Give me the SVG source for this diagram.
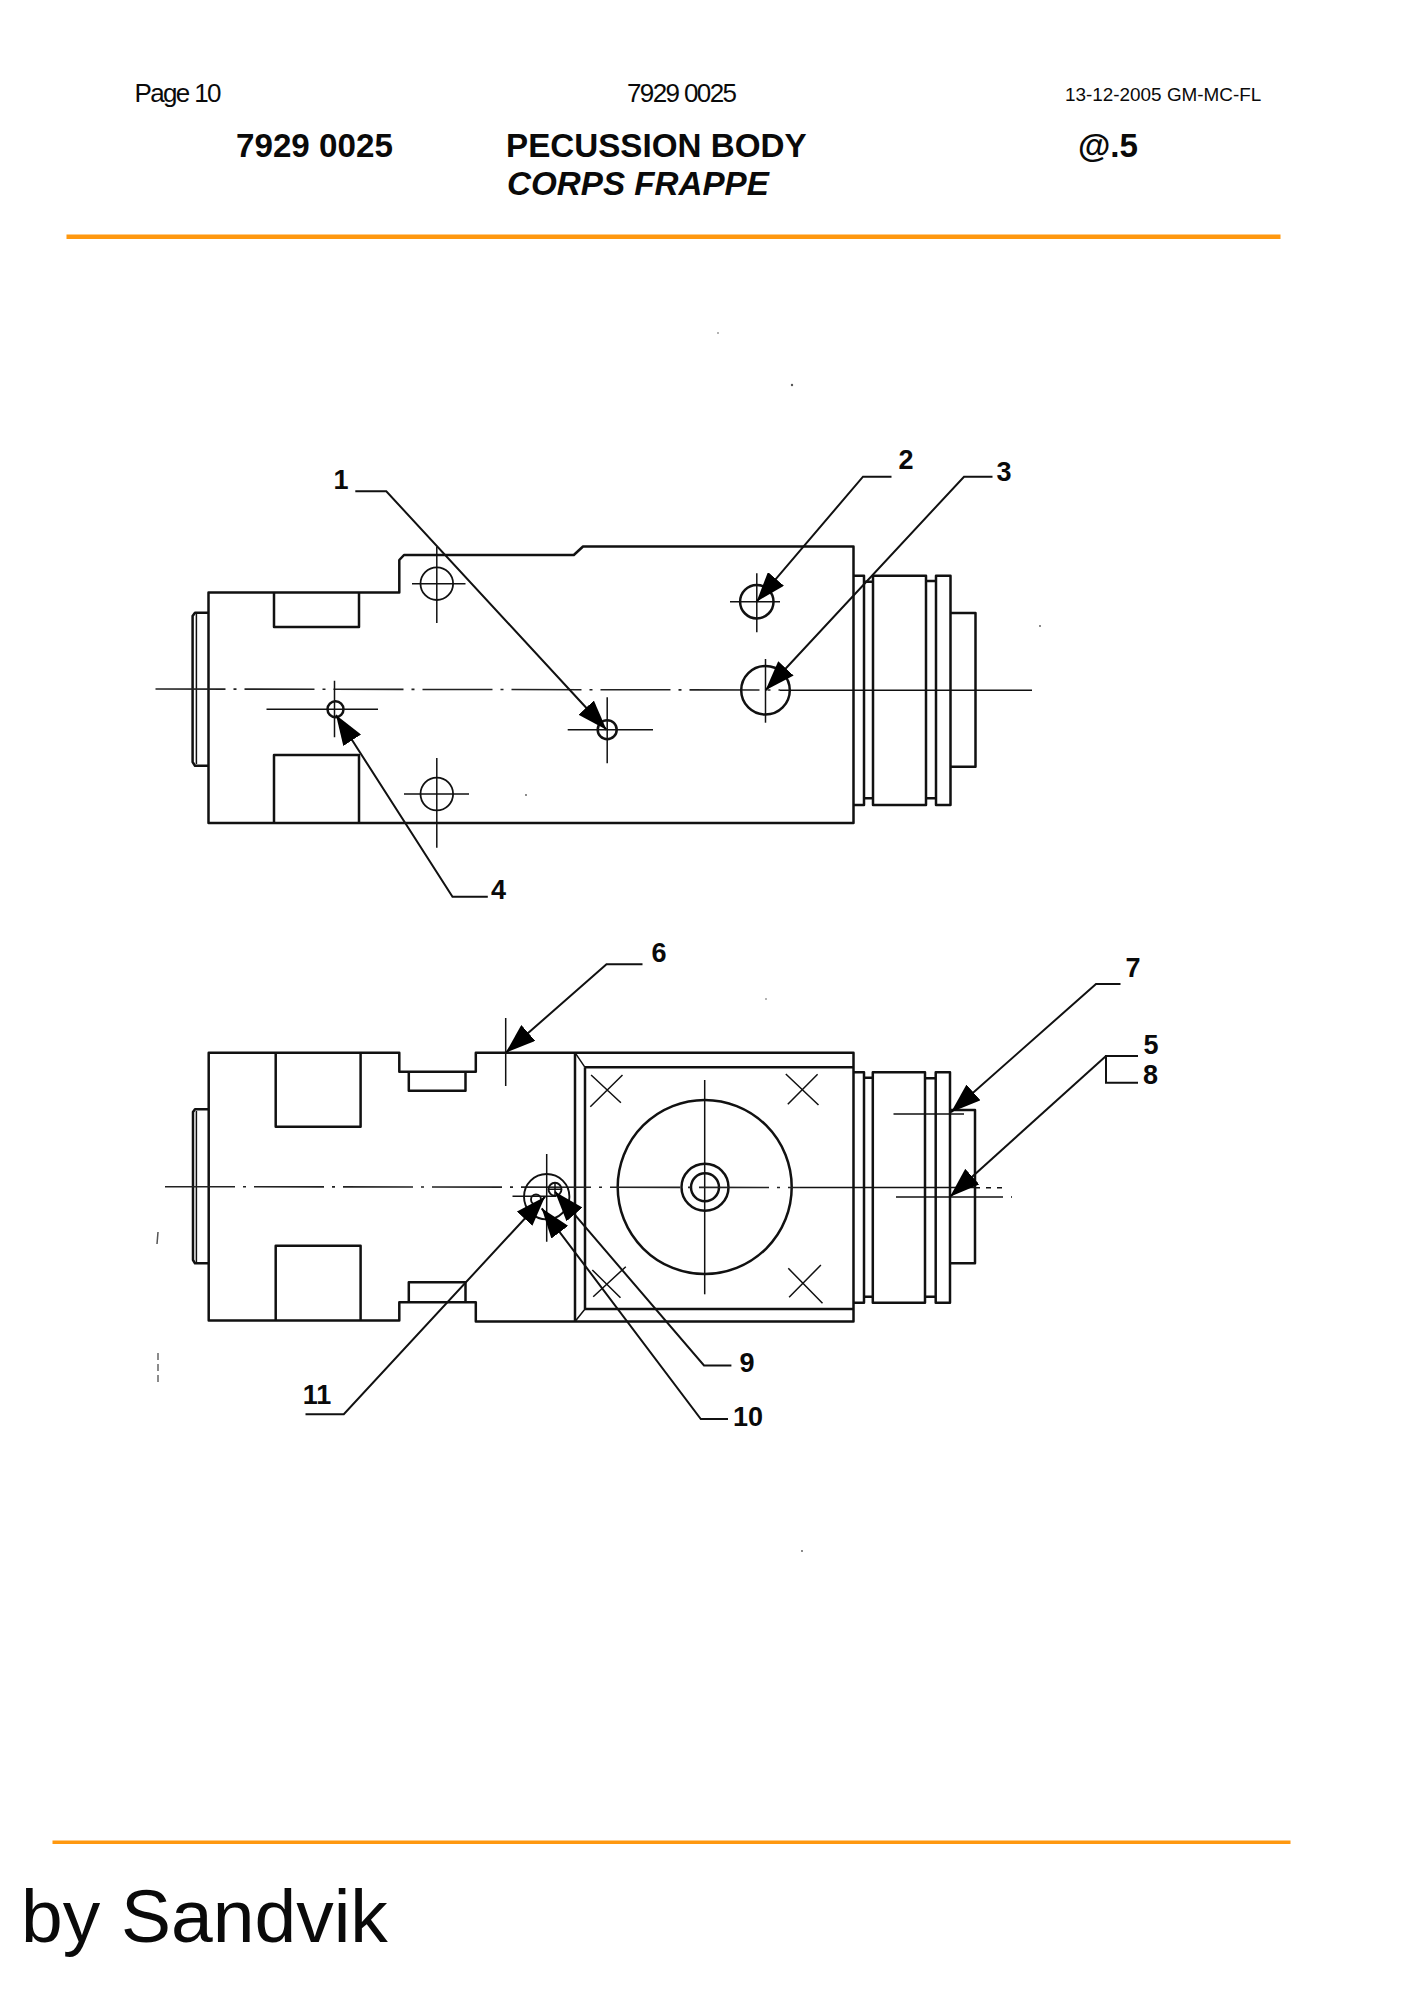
<svg xmlns="http://www.w3.org/2000/svg" width="1414" height="2000" viewBox="0 0 1414 2000">
<style>
text{font-family:"Liberation Sans",Arial,sans-serif;fill:#0a0a0a}
.h{font-size:26px}
.b{font-size:33.2px;font-weight:bold}
.n{font-size:27px;font-weight:bold;text-anchor:middle}
.o{fill:none;stroke:#111;stroke-width:2.5;stroke-linejoin:round}
.t{fill:none;stroke:#111;stroke-width:1.5}
.c{fill:none;stroke:#222;stroke-width:1.6;stroke-dasharray:70 8 3 8}
.l{fill:none;stroke:#111;stroke-width:2;marker-end:url(#ah)}
.p{fill:none;stroke:#111;stroke-width:2}
.r{fill:#ff980f}
.s{fill:#555}
</style>
<defs>
<marker id="ah" markerUnits="userSpaceOnUse" markerWidth="31" markerHeight="21" refX="30" refY="10.5" orient="auto"><path d="M0,0 L30,10.5 L0,21 z" fill="#000"/></marker>
</defs>
<rect width="1414" height="2000" fill="#fff"/>
<g id="header">
<text class="h" x="134.5" y="102" textLength="87" lengthAdjust="spacing">Page 10</text>
<text class="h" x="627" y="102" textLength="110" lengthAdjust="spacing">7929 0025</text>
<text x="1065" y="101" font-size="18.9">13-12-2005 GM-MC-FL</text>
<text class="b" x="236" y="157">7929 0025</text>
<text class="b" x="506" y="157">PECUSSION BODY</text>
<text class="b" x="507" y="195" font-style="italic">CORPS FRAPPE</text>
<text class="b" x="1078" y="157">@.5</text>
<rect class="r" x="66.5" y="234.5" width="1214" height="4.5"/>
</g>
<g id="footer">
<rect class="r" x="52.5" y="1840.5" width="1238" height="3.5"/>
<text x="21" y="1941.5" font-size="75">by Sandvik</text>
</g>
<g id="top-view">
<path class="o" d="M208.5,592.5H399.3V560L404,555H573.8L583,546.5H853.5V823H208.5Z"/>
<path class="o" d="M274,592.5V627H359V592.5M274,822V755H359V822"/>
<path class="o" d="M208.5,612.7H195L192.6,616V762L195,765.7H208.5"/>
<path class="t" d="M196.4,614V764"/>
<path class="c" d="M155.5,689L780,690"/>
<path class="t" d="M780,690.3H1032"/>
<g id="hole-a"><circle class="o" cx="436.8" cy="583.7" r="16.3" style="stroke-width:1.8"/><path class="t" d="M412,583.7H465.5M436.8,547V623"/></g>
<g id="hole-b"><circle class="o" cx="436.8" cy="794" r="16.3" style="stroke-width:1.8"/><path class="t" d="M404,794H469M436.8,758V847.7"/></g>
<g id="hole-4"><circle class="o" cx="335.5" cy="709.3" r="8"/><path class="t" d="M266.5,709.3H378M334.5,680.7V737.3"/></g>
<g id="hole-1"><circle class="o" cx="607.2" cy="729.7" r="9.5"/><path class="t" d="M567.7,729.7H653M607.2,697.3V763.3"/></g>
<g id="hole-2"><circle class="o" cx="756.8" cy="601.7" r="16.7"/><path class="t" d="M730,601.7H780M756.8,573.3V632.3"/></g>
<g id="hole-3"><circle class="o" cx="765.5" cy="690.3" r="24.3"/><path class="t" d="M765.5,659V722.7"/></g>
<g id="collars-top">
<path class="o" d="M853.5,575.7H864V805H853.5"/>
<path class="o" d="M864,581.7H873M864,798.3H873"/>
<path class="o" d="M873,575.7H926V805H873Z"/>
<path class="o" d="M926,581H936M926,798.3H936"/>
<path class="o" d="M936,575.7H950.5V805H936Z"/>
<path class="o" d="M950.5,613H975.5V766.7H950.5"/>
</g>
</g>
<g id="bottom-view">
<path class="o" d="M208.7,1052.7H399.3V1071.7H475.8V1052.7H853.5V1321.5H475.8V1302.3H399.3V1320.5H208.7Z"/>
<path class="o" d="M275.7,1052.7V1126.7H360.6V1052.7M275.7,1320.5V1245.7H360.6V1320.5"/>
<path class="o" d="M408.8,1071.7V1090.7H465.5V1071.7M408.8,1302.3V1282.3H465.5V1302.3"/>
<path class="o" d="M208.7,1109.3H195L193,1112V1260L195,1263.3H208.7"/>
<path class="t" d="M196.4,1111V1262"/>
<path class="o" d="M575,1052.7V1321.5M585,1067.3V1309M585,1067.3H853.5M585,1309H853.5"/>
<path class="t" d="M575,1052.7L585,1067.3M575,1321.5L585,1309"/>
<path class="t" d="M590.3,1106.7L622.5,1075M591.1,1075L620.9,1102.7M787.8,1104.3L817.6,1074.3M785.8,1074L818.5,1105M593.2,1296.7L625.8,1266.7M592.3,1270L620.5,1297.7M789.1,1297.3L820.9,1265M788.3,1268.3L822.5,1303.3"/>
<g id="main-bore"><circle class="o" cx="704.7" cy="1187" r="87"/><circle class="o" cx="705" cy="1187.3" r="23.5"/><circle class="o" cx="705" cy="1187.3" r="14"/><path class="t" d="M704.7,1080V1294.3"/></g>
<path class="c" d="M165,1186.7L800,1187.5"/>
<path class="t" d="M800,1187.5H975"/>
<path class="t" d="M975,1187.7H1008" stroke-dasharray="5 6"/>
<g id="collars-bottom">
<path class="o" d="M853.5,1072.3H864V1302.7H853.5"/>
<path class="o" d="M864,1077.7H872.8M864,1296.7H872.8"/>
<path class="o" d="M872.8,1072.3H925V1302.7H872.8Z"/>
<path class="o" d="M925,1078.3H935.7M925,1296.7H935.7"/>
<path class="o" d="M935.7,1072.3H950V1302.7H935.7Z"/>
<path class="o" d="M950,1110H975V1263.3H950"/>
</g>
<path class="t" d="M893.5,1114H964"/>
<path class="t" d="M896,1197H1000"/>
<path class="t" d="M1000,1197H1012" stroke-dasharray="3 8"/>
<path class="t" d="M505.7,1018V1086"/>
<g id="port-cluster"><circle class="t" cx="546.7" cy="1196.7" r="22.7" style="stroke-width:1.9"/><circle class="t" cx="555" cy="1189.3" r="6.5" style="stroke-width:1.9"/><circle class="t" cx="536" cy="1199.5" r="5" style="stroke-width:1.9"/><path class="t" d="M546.7,1154V1241.7M512.5,1196.3H556M555,1182V1197M548,1189.3H562"/></g>
</g>
<g id="connectors">
<path class="l" d="M355.3,491.3H386.3L606.5,729.7"/>
<path class="l" d="M487.8,896.7H452.5L336,715"/>
<path class="l" d="M891.5,476.7H863L756.5,601.7"/>
<path class="l" d="M992.5,476.7H964L765.5,690.3"/>
<path class="l" d="M642.5,964.3H606.5L505.7,1052.7"/>
<path class="l" d="M1120.5,984H1096L951,1112.3"/>
<path class="p" d="M1138,1056H1106V1082.7H1138"/>
<path class="l" d="M1106,1056L950,1196.7"/>
<path class="l" d="M731.4,1365.5H704L555,1191.7"/>
<path class="l" d="M728,1419H700.8L541.7,1208.3"/>
<path class="l" d="M305.5,1414.3H343.8L545,1196.7"/>
</g>
<g id="label-1"><text class="n" x="341" y="489">1</text></g>
<g id="label-2"><text class="n" x="906" y="468.5">2</text></g>
<g id="label-3"><text class="n" x="1004" y="481">3</text></g>
<g id="label-4"><text class="n" x="498.5" y="899">4</text></g>
<g id="label-5"><text class="n" x="1151" y="1053.5">5</text></g>
<g id="label-6"><text class="n" x="659" y="962">6</text></g>
<g id="label-7"><text class="n" x="1133" y="977">7</text></g>
<g id="label-8"><text class="n" x="1150.5" y="1084">8</text></g>
<g id="label-9"><text class="n" x="747" y="1372">9</text></g>
<g id="label-10"><text class="n" x="748" y="1425.5">10</text></g>
<g id="label-11"><text class="n" x="317" y="1404">11</text></g>
<g id="specks">
<circle class="s" cx="792" cy="385" r="1.2"/><circle class="s" cx="718" cy="333" r="0.8"/><circle class="s" cx="526" cy="795" r="0.9"/><circle class="s" cx="1040" cy="626" r="0.9"/><circle class="s" cx="802" cy="1551" r="0.9"/><circle class="s" cx="766" cy="999" r="0.8"/>
<path class="t" d="M158,1232L157,1244" style="stroke:#555"/>
<path class="t" d="M158,1353V1386" stroke-dasharray="7 4" style="stroke:#666"/>
</g>
</svg>
